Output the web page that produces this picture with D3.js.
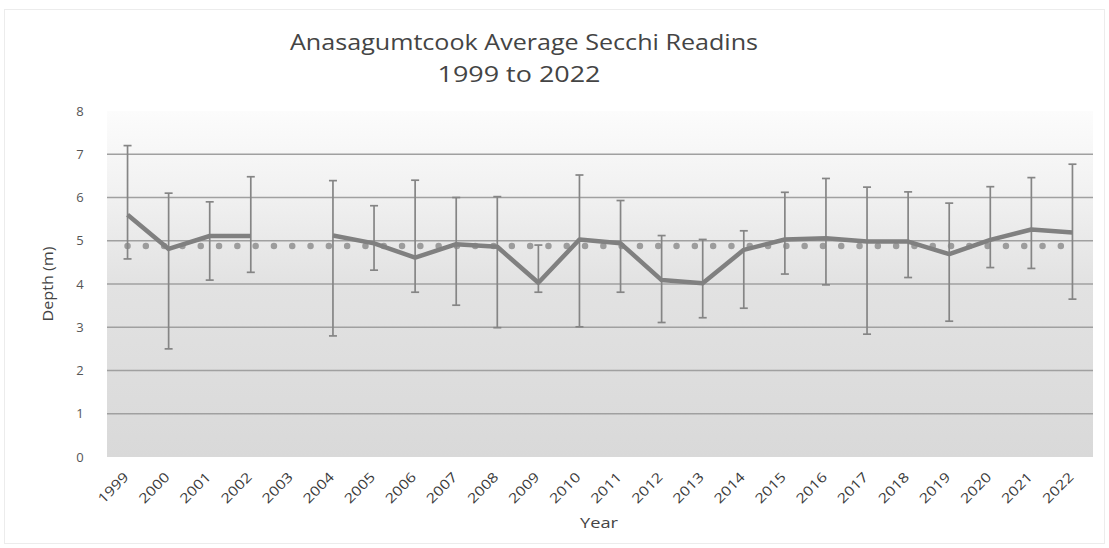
<!DOCTYPE html>
<html>
<head>
<meta charset="utf-8">
<script src="https://cdn.jsdelivr.net/npm/d3@7"></script>
<style>
  html, body { margin: 0; padding: 0; background: #fff; }
  svg { display: block; }
</style>
</head>
<body>
<svg id="chart" width="1109" height="548"></svg>
<script>
// ---- Data ----
const years = ["1999","2000","2001","2002","2003","2004","2005","2006","2007","2008","2009","2010",
               "2011","2012","2013","2014","2015","2016","2017","2018","2019","2020","2021","2022"];
const meanDepth = [5.6, 4.81, 5.11, 5.11, null, 5.12, 4.94, 4.61, 4.92, 4.86, 4.03, 5.03,
                   4.94, 4.09, 4.02, 4.79, 5.03, 5.06, 4.98, 4.98, 4.69, 5.02, 5.26, 5.19];
const maxDepth  = [7.2, 6.1, 5.9, 6.48, null, 6.39, 5.81, 6.4, 6.0, 6.02, 4.9, 6.52,
                   5.93, 5.12, 5.03, 5.23, 6.12, 6.44, 6.24, 6.13, 5.87, 6.25, 6.46, 6.77];
const minDepth  = [4.58, 2.5, 4.09, 4.27, null, 2.8, 4.32, 3.81, 3.51, 2.99, 3.81, 3.01,
                   3.81, 3.11, 3.22, 3.44, 4.23, 3.98, 2.84, 4.15, 3.14, 4.38, 4.36, 3.65];
const overallAverage = [4.88, 4.88, 4.88, 4.88, 4.88, 4.88, 4.88, 4.88, 4.88, 4.88, 4.88, 4.88,
                        4.88, 4.88, 4.88, 4.88, 4.88, 4.88, 4.88, 4.88, 4.88, 4.88, 4.88, 4.88];
const yTicks = [0, 1, 2, 3, 4, 5, 6, 7, 8];
const titleLines = ["Anasagumtcook Average Secchi Readins", "1999 to 2022"];
const xTitle = "Year";
const yTitle = "Depth (m)";

// ---- Layout ----
const svg = d3.select("#chart");
const W = 1109, H = 548;
const plot = { left: 107, right: 1093, top: 111, bottom: 457 };
const font = "'Open Sans', 'DejaVu Sans', sans-serif";

const x = d3.scaleBand().domain(years).range([plot.left, plot.right]).padding(0);
const cx = d => x(d) + x.bandwidth() / 2;
const y = d3.scaleLinear().domain([0, 8]).range([plot.bottom, plot.top]);

// outer frame
svg.append("rect").attr("x", 4.5).attr("y", 9.5).attr("width", W - 9).attr("height", H - 14)
  .attr("fill", "#fff").attr("stroke", "#ececec").attr("stroke-width", 1);

// background gradient
const defs = svg.append("defs");
const grad = defs.append("linearGradient").attr("id", "bg").attr("x1", 0).attr("y1", 0).attr("x2", 0).attr("y2", 1);
grad.append("stop").attr("offset", "0%").attr("stop-color", "#fcfcfc");
grad.append("stop").attr("offset", "22%").attr("stop-color", "#f2f2f2");
grad.append("stop").attr("offset", "50%").attr("stop-color", "#e2e2e2");
grad.append("stop").attr("offset", "100%").attr("stop-color", "#d9d9d9");
svg.append("rect").attr("x", plot.left).attr("y", plot.top)
  .attr("width", plot.right - plot.left).attr("height", plot.bottom - plot.top)
  .attr("fill", "url(#bg)");

// horizontal gridlines
svg.append("g").selectAll("line").data(yTicks.filter(t => t > 0 && t < 8)).join("line")
  .attr("x1", plot.left).attr("x2", plot.right)
  .attr("y1", d => y(d)).attr("y2", d => y(d))
  .attr("stroke", "#a0a0a0").attr("stroke-width", 1.4);

// y axis labels
const yAxis = d3.axisLeft(y).tickValues(yTicks).tickSize(0).tickPadding(0);
const gy = svg.append("g").attr("transform", `translate(${plot.left - 27},0)`).call(yAxis);
gy.select(".domain").remove();
gy.selectAll("text").attr("font-family", font).attr("font-size", 13).attr("fill", "#555")
  .attr("text-anchor", "middle");

// x axis labels
const xAxis = d3.axisBottom(x).tickSize(0).tickPadding(0);
const gx = svg.append("g").attr("transform", `translate(0,${plot.bottom})`).call(xAxis);
gx.select(".domain").remove();
gx.selectAll("text")
  .attr("font-family", font).attr("font-size", 13.5).attr("fill", "#3a3a3a")
  .attr("text-anchor", "end").attr("dy", 0).attr("y", 0)
  .attr("textLength", 37).attr("lengthAdjust", "spacingAndGlyphs")
  .attr("transform", "translate(2,21) rotate(-45)");

// overall average dotted line
const avgLine = d3.line().x((d, i) => cx(years[i])).y(d => y(d));
svg.append("path").datum(overallAverage).attr("d", avgLine)
  .attr("fill", "none").attr("stroke", "#9c9c9c").attr("stroke-width", 6.5)
  .attr("stroke-linecap", "round").attr("stroke-dasharray", "0 18.3");

// error bars
const idx = d3.range(years.length).filter(i => meanDepth[i] != null);
const eb = svg.append("g").attr("stroke", "#858585").attr("stroke-width", 1.7);
eb.selectAll("line.v").data(idx).join("line").attr("class", "v")
  .attr("x1", i => cx(years[i])).attr("x2", i => cx(years[i]))
  .attr("y1", i => y(maxDepth[i])).attr("y2", i => y(minDepth[i]));
eb.selectAll("line.t").data(idx).join("line").attr("class", "t")
  .attr("x1", i => cx(years[i]) - 4).attr("x2", i => cx(years[i]) + 4)
  .attr("y1", i => y(maxDepth[i])).attr("y2", i => y(maxDepth[i]));
eb.selectAll("line.b").data(idx).join("line").attr("class", "b")
  .attr("x1", i => cx(years[i]) - 4).attr("x2", i => cx(years[i]) + 4)
  .attr("y1", i => y(minDepth[i])).attr("y2", i => y(minDepth[i]));

// mean line
const meanLine = d3.line().defined(d => d != null).x((d, i) => cx(years[i])).y(d => y(d));
svg.append("path").datum(meanDepth).attr("d", meanLine)
  .attr("fill", "none").attr("stroke", "#808080").attr("stroke-width", 4.5)
  .attr("stroke-linejoin", "round");

// titles
const title = svg.append("text").attr("font-family", font)
  .attr("font-size", 21).attr("fill", "#444").attr("text-anchor", "middle");
title.append("tspan").attr("x", 524).attr("y", 50)
  .attr("textLength", 468).attr("lengthAdjust", "spacingAndGlyphs").text(titleLines[0]);
title.append("tspan").attr("x", 519).attr("y", 82)
  .attr("textLength", 163).attr("lengthAdjust", "spacingAndGlyphs").text(titleLines[1]);

svg.append("text").attr("x", 599).attr("y", 528).attr("text-anchor", "middle")
  .attr("font-family", font).attr("font-size", 15).attr("fill", "#444")
  .attr("textLength", 38).attr("lengthAdjust", "spacingAndGlyphs").text(xTitle);

svg.append("text").attr("transform", "translate(53,284) rotate(-90)").attr("text-anchor", "middle")
  .attr("font-family", font).attr("font-size", 15).attr("fill", "#444")
  .attr("textLength", 75).attr("lengthAdjust", "spacingAndGlyphs").text(yTitle);
</script>
</body>
</html>
